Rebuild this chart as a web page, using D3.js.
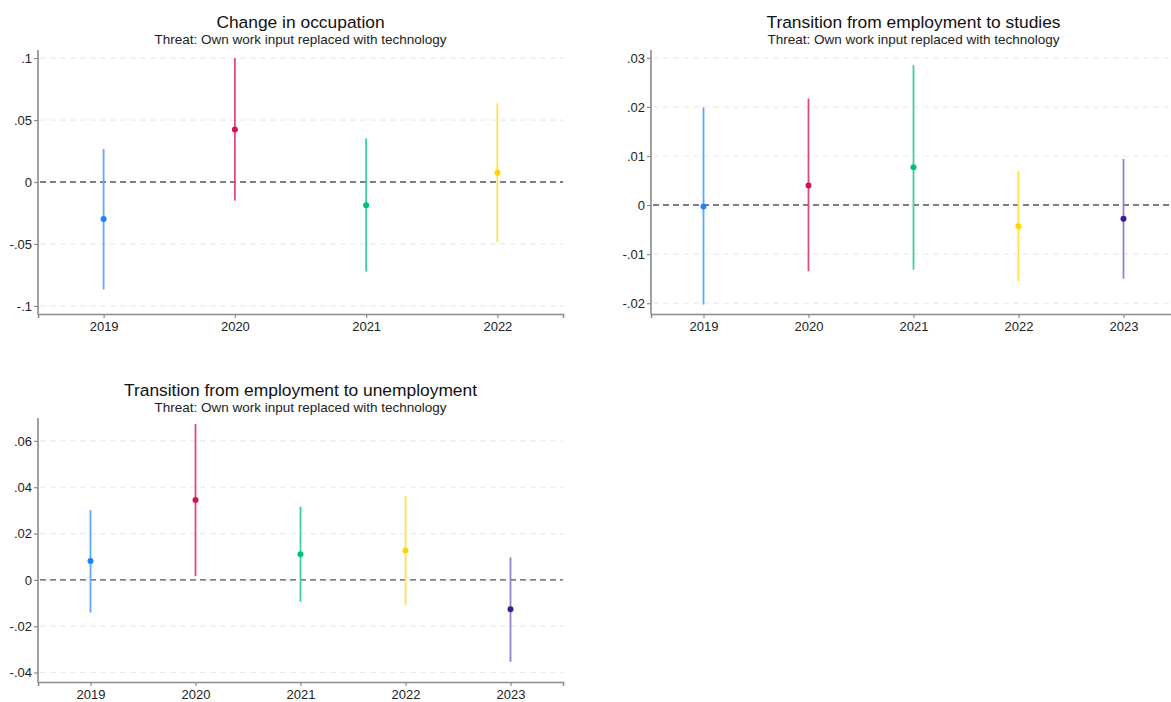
<!DOCTYPE html>
<html>
<head>
<meta charset="utf-8">
<script src="https://cdn.jsdelivr.net/npm/d3@7"></script>
<style>
  body { margin: 0; background: #fff; }
  svg { font-family: Arial, "Liberation Sans", sans-serif; }
</style>
</head>
<body>
<svg id="chart" width="1171" height="702"></svg>
<script>
const SUBTITLE = "Threat: Own work input replaced with technology";
const YEARS_4 = [2019, 2020, 2021, 2022];
const YEARS_5 = [2019, 2020, 2021, 2022, 2023];
const COLORS = ["#1a85ff", "#d41159", "#00bf7f", "#ffd400", "#3f1d8c"];
const LINE_COLORS = ["#5ea9ff", "#e0487f", "#3fd19a", "#ffe04d", "#9580cc"];

// change in occupation
const OCC_EST = [-0.0298, 0.0424, -0.0188, 0.0075];
const OCC_LO = [-0.0867, -0.0150, -0.0722, -0.0486];
const OCC_HI = [0.0266, 0.1000, 0.0352, 0.0634];
const OCC_TICKS = [-0.1, -0.05, 0, 0.05, 0.1];

// employment -> studies
const STU_EST = [-0.0003, 0.0040, 0.0077, -0.0043, -0.0028];
const STU_LO = [-0.0203, -0.0135, -0.0132, -0.0156, -0.0150];
const STU_HI = [0.0199, 0.0217, 0.0285, 0.0070, 0.0094];
const STU_TICKS = [-0.02, -0.01, 0, 0.01, 0.02, 0.03];

// employment -> unemployment
const UNE_EST = [0.0081, 0.0345, 0.0111, 0.0127, -0.0127];
const UNE_LO = [-0.0141, 0.0016, -0.0095, -0.0108, -0.0354];
const UNE_HI = [0.0302, 0.0673, 0.0317, 0.0363, 0.0098];
const UNE_TICKS = [-0.04, -0.02, 0, 0.02, 0.04, 0.06];

// stata-ish number format: .05, -.1, 0
const fmt = (v) => {
  if (Math.abs(v) < 1e-9) return "0";
  return String(+v.toFixed(3)).replace("0.", ".");
};

const svg = d3.select("#chart");

function drawPanel(p) {
  const g = svg.append("g");

  const x = d3.scaleLinear()
    .domain([p.years[0] - 0.5, p.years[p.years.length - 1] + 0.5])
    .range([p.left, p.right]);
  const y = d3.scaleLinear().domain(p.yDomain).range([p.bottom, p.top]);

  // titles
  const cx = (p.left + p.right) / 2;
  g.append("text")
    .attr("x", cx).attr("y", p.top - 22)
    .attr("text-anchor", "middle")
    .style("font-size", "17.4px").style("fill", "#111")
    .text(p.title);
  g.append("text")
    .attr("x", cx).attr("y", p.top - 6)
    .attr("text-anchor", "middle")
    .style("font-size", "13.5px").style("fill", "#222")
    .text(SUBTITLE);

  // grid
  g.selectAll(".grid")
    .data(p.ticks.filter((t) => t !== 0))
    .enter()
    .append("line")
    .attr("x1", p.left + 2).attr("x2", p.right)
    .attr("y1", (d) => y(d)).attr("y2", (d) => y(d))
    .style("stroke", "#ececec").style("stroke-width", 1.2)
    .style("stroke-dasharray", "6,4");

  // zero line
  g.append("line")
    .attr("x1", p.left + 2).attr("x2", p.right)
    .attr("y1", y(0)).attr("y2", y(0))
    .style("stroke", "#555").style("stroke-width", 1.4)
    .style("stroke-dasharray", "6,4");

  // axes
  const yAxis = d3.axisLeft(y).tickValues(p.ticks).tickFormat(fmt)
    .tickSize(4).tickPadding(2);
  const yG = g.append("g").attr("transform", `translate(${p.left},0)`).call(yAxis);
  yG.select(".domain").attr("d", `M0,${p.top}V${p.bottom}`);

  const xAxis = d3.axisBottom(x).tickValues(p.years).tickFormat(d3.format("d"))
    .tickSize(4).tickPadding(4);
  const xG = g.append("g").attr("transform", `translate(0,${p.bottom})`).call(xAxis);

  [yG, xG].forEach((ax) => {
    ax.select(".domain").style("stroke", "#8a8a8a").style("stroke-width", 1.6);
    ax.selectAll(".tick line").style("stroke", "#8a8a8a").style("stroke-width", 1.2);
    ax.selectAll(".tick text").style("font-size", "13px").style("fill", "#222")
      .style("font-family", "Arial, 'Liberation Sans', sans-serif");
  });

  // CIs and points
  const rows = p.years.map((yr, i) => ({ yr, i, est: p.est[i], lo: p.lo[i], hi: p.hi[i] }));
  g.selectAll(".ci")
    .data(rows)
    .enter()
    .append("line")
    .attr("x1", (d) => x(d.yr)).attr("x2", (d) => x(d.yr))
    .attr("y1", (d) => y(d.lo)).attr("y2", (d) => y(d.hi))
    .style("stroke", (d) => LINE_COLORS[d.i]).style("stroke-width", 1.8);
  g.selectAll(".pt")
    .data(rows)
    .enter()
    .append("circle")
    .attr("cx", (d) => x(d.yr)).attr("cy", (d) => y(d.est))
    .attr("r", 3)
    .style("fill", (d) => COLORS[d.i]);
}

drawPanel({
  title: "Change in occupation", years: YEARS_4,
  est: OCC_EST, lo: OCC_LO, hi: OCC_HI, ticks: OCC_TICKS,
  yDomain: [-0.1065, 0.1065],
  left: 38, right: 563, top: 50, bottom: 314,
});

drawPanel({
  title: "Transition from employment to studies", years: YEARS_5,
  est: STU_EST, lo: STU_LO, hi: STU_HI, ticks: STU_TICKS,
  yDomain: [-0.0222, 0.0316],
  left: 651, right: 1176, top: 50, bottom: 314,
});

drawPanel({
  title: "Transition from employment to unemployment", years: YEARS_5,
  est: UNE_EST, lo: UNE_LO, hi: UNE_HI, ticks: UNE_TICKS,
  yDomain: [-0.0441, 0.0699],
  left: 38, right: 563, top: 418, bottom: 682,
});
</script>
</body>
</html>
